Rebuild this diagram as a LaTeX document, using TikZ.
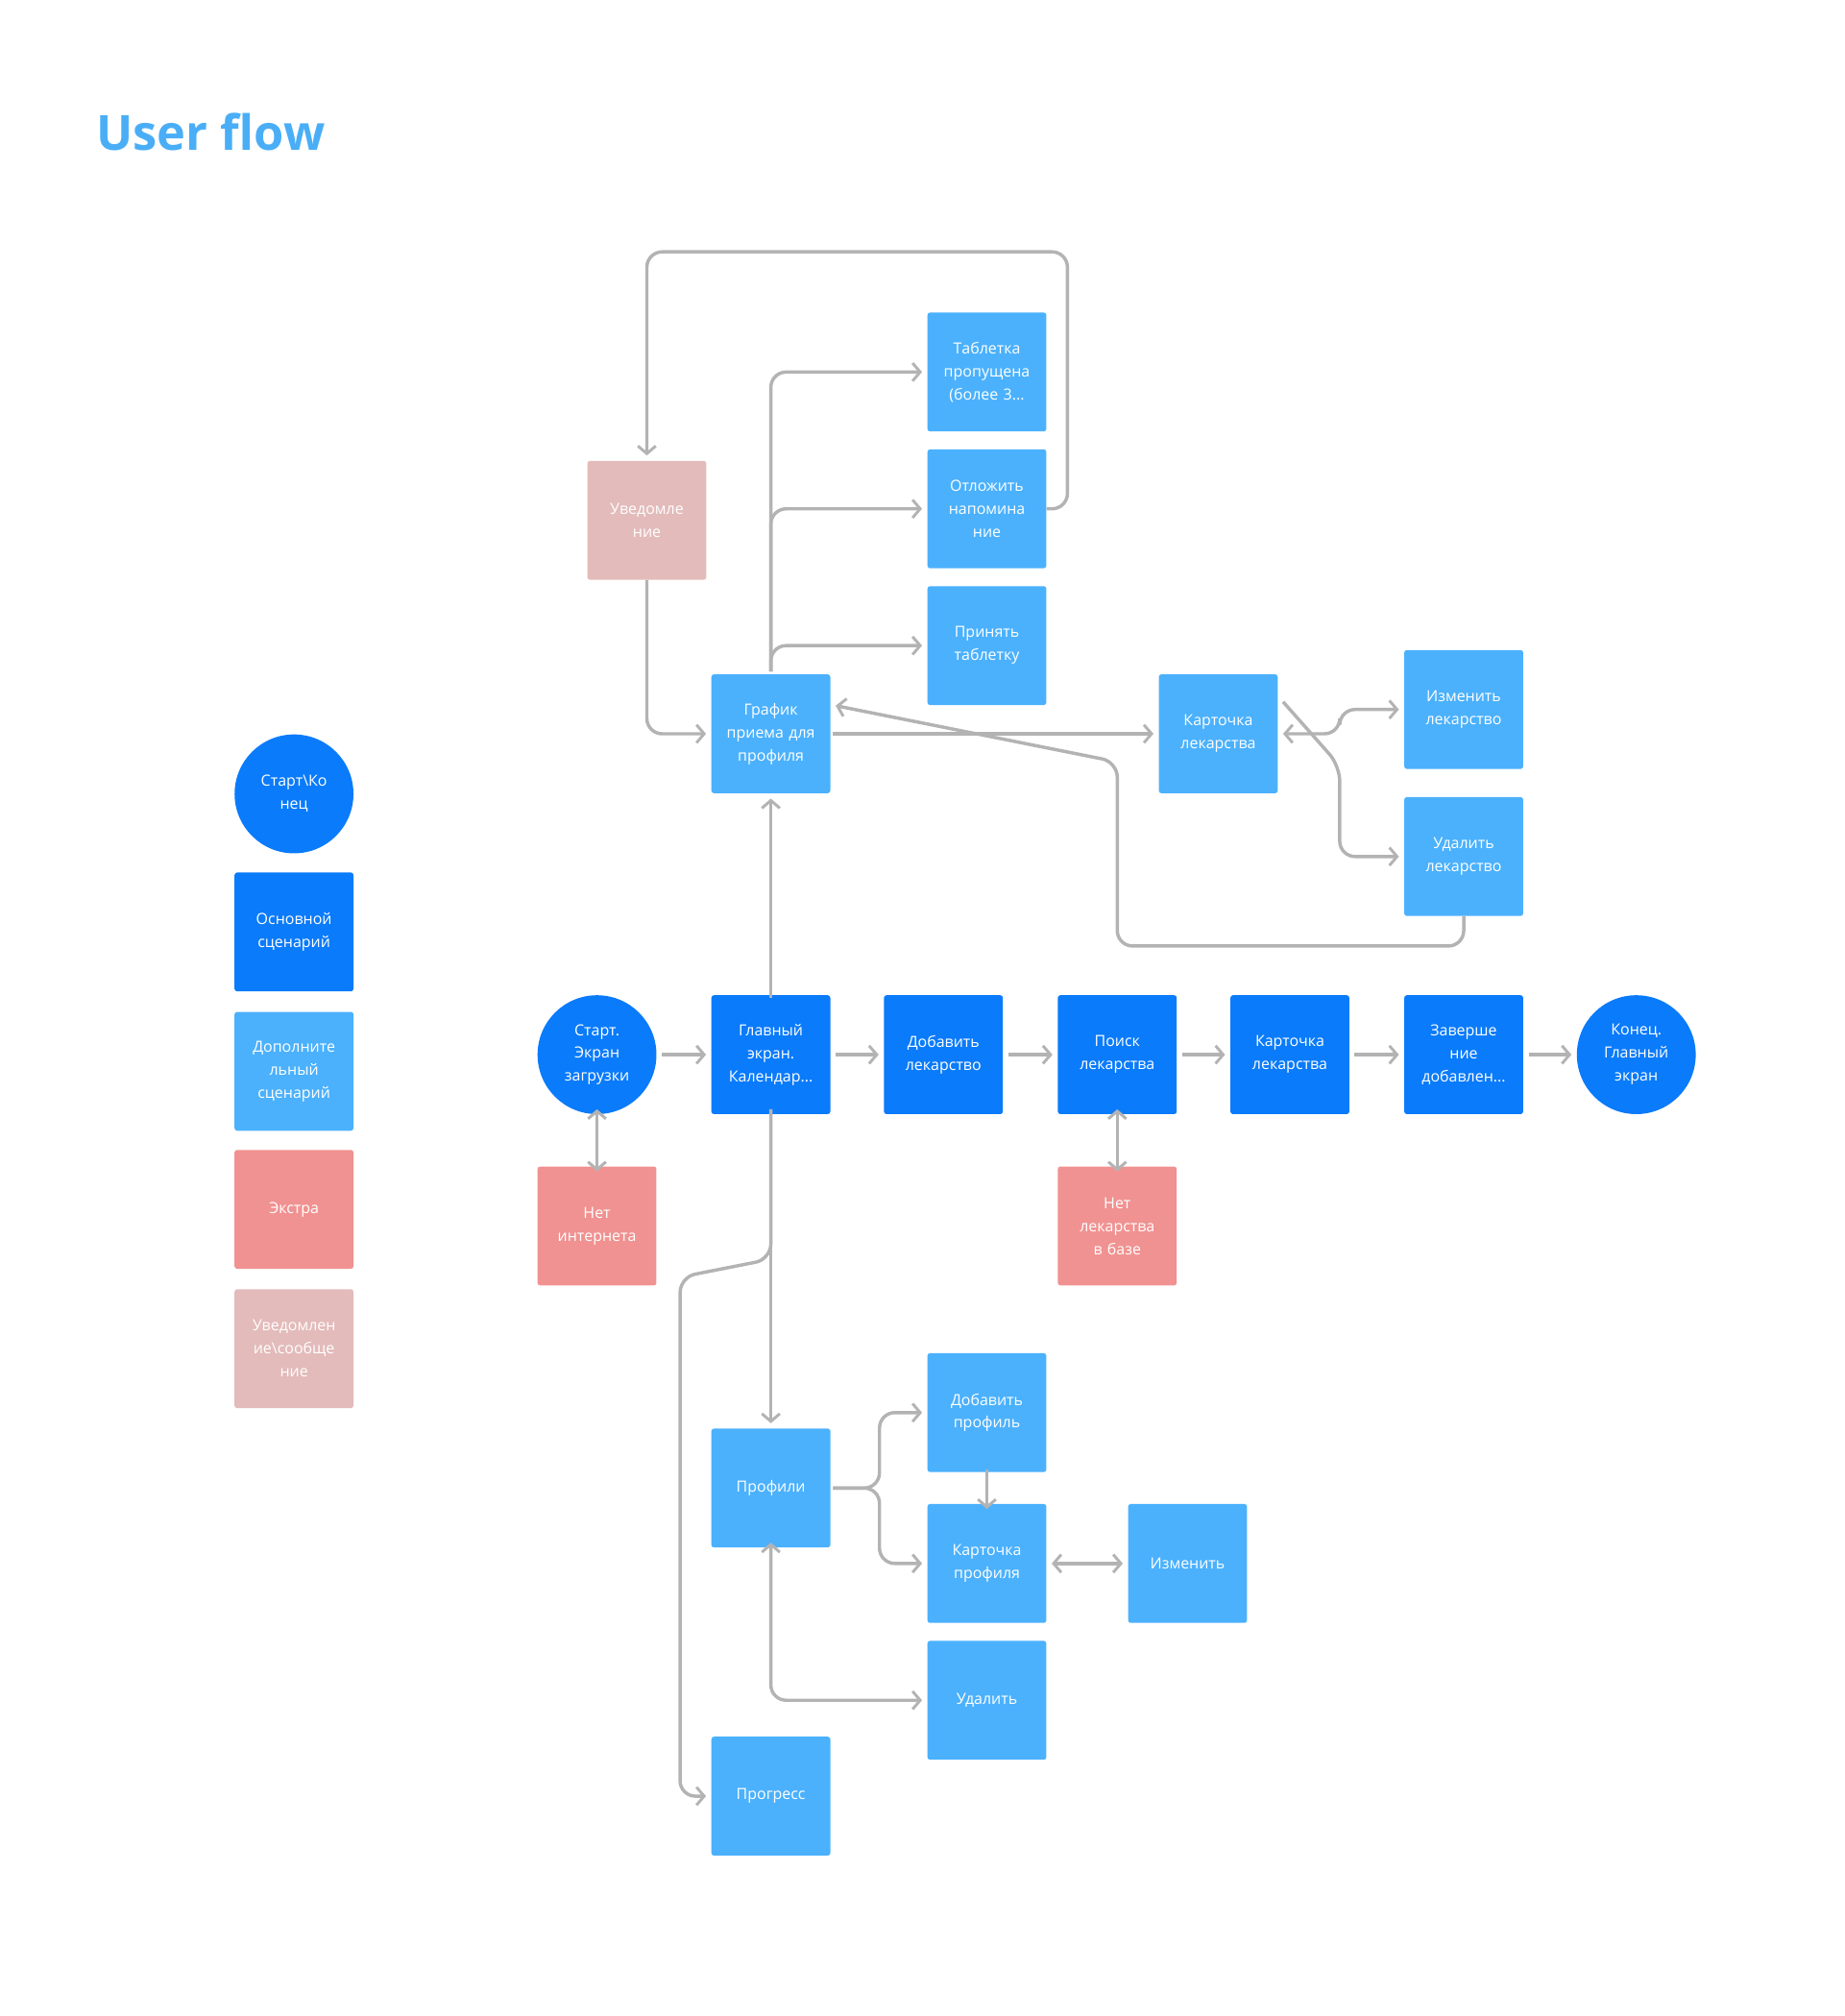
\documentclass[tikz,border=0pt]{standalone}
\usepackage{fontspec}
\setmainfont{Open Sans}
\usetikzlibrary{arrows.meta,calc}
\definecolor{dblue}{HTML}{0A7BFB}
\definecolor{lblue}{HTML}{4BB1FD}
\definecolor{pinkx}{HTML}{F09291}
\definecolor{ppink}{HTML}{E3BBBA}
\definecolor{ttl}{HTML}{4AAEF7}
\definecolor{gr}{HTML}{B3B3B3}
\begin{document}
\begin{tikzpicture}[x=1pt,y=-1pt,
 box/.style={minimum width=93pt,minimum height=93pt,inner sep=2pt,rounded corners=2pt,text=white,align=center,font=\fontsize{12}{18}\selectfont,text width=86pt},
 M/.style={box,fill=dblue},
 A/.style={box,fill=lblue},
 E/.style={box,fill=pinkx},
 N/.style={box,fill=ppink},
 C/.style={circle,fill=dblue,minimum size=93pt,inner sep=0pt,text=white,align=center,font=\fontsize{12}{18}\selectfont,text width=70pt},
 ar/.style={draw=gr,line width=2.6pt,rounded corners=12pt,-{Straight Barb[length=6pt,width=14pt,line width=2.2pt]}},
 dar/.style={ar,{Straight Barb[length=6pt,width=14pt,line width=2.2pt]}-{Straight Barb[length=6pt,width=14pt,line width=2.2pt]}}]
\useasboundingbox (0,0) rectangle (1443,1577);
\node[anchor=west,text=ttl,font=\fontsize{38}{40}\selectfont\bfseries] (title) at (72,103) {User flow};
% legend
\node[C] (l1) at (230,621) {Старт\textbackslash Ко\\нец};
\node[M] (l2) at (230,729) {Основной\\сценарий};
\node[A] (l3) at (230,838) {Дополните\\льный\\сценарий};
\node[E] (l4) at (230,946) {Экстра};
\node[N] (l5) at (230,1055) {Уведомлен\\ие\textbackslash сообще\\ние};
% main row
\node[C] (st) at (467,825) {Старт.\\Экран\\загрузки};
\node[M] (ms) at (603,825) {Главный\\экран.\\Календар...};
\node[M] (ad) at (738,825) {Добавить\\лекарство};
\node[M] (se) at (874,825) {Поиск\\лекарства};
\node[M] (kc) at (1009,825) {Карточка\\лекарства};
\node[M] (fi) at (1145,825) {Заверше\\ние\\добавлен...};
\node[C] (en) at (1280,825) {Конец.\\Главный\\экран};
\node[E] (ni) at (467,959) {Нет\\интернета};
\node[E] (nl) at (874,959) {Нет\\лекарства\\в базе};
% upper
\node[A] (gr) at (603,574) {График\\приема для\\профиля};
\node[A] (tp) at (772,291) {Таблетка\\пропущена\\(более 3...};
\node[A] (ot) at (772,398) {Отложить\\напомина\\ние};
\node[A] (pr) at (772,505) {Принять\\таблетку};
\node[N] (uv) at (506,407) {Уведомле\\ние};
\node[A] (kl) at (953,574) {Карточка\\лекарства};
\node[A] (il) at (1145,555) {Изменить\\лекарство};
\node[A] (ul) at (1145,670) {Удалить\\лекарство};
% lower
\node[A] (pf) at (603,1164) {Профили};
\node[A] (ap) at (772,1105) {Добавить\\профиль};
\node[A] (kp) at (772,1223) {Карточка\\профиля};
\node[A] (ip) at (929,1223) {Изменить};
\node[A] (up) at (772,1330) {Удалить};
\node[A] (pg) at (603,1405) {Прогресс};
% main row arrows
\foreach \a/\b in {st/ms,ms/ad,ad/se,se/kc,kc/fi,fi/en}
  \draw[ar] ([xshift=4pt]\a.east) -- ([xshift=-4pt]\b.west);
\draw[dar] ([yshift=4pt]st.south) -- ([yshift=-4pt]ni.north);
\draw[dar] ([yshift=4pt]se.south) -- ([yshift=-4pt]nl.north);
\draw[ar] ([yshift=-2pt]ms.north) -- ([yshift=-4pt]gr.south);
\draw[ar] ([yshift=4pt]ms.south) -- ([yshift=4pt]pf.north);
\coordinate (pgA) at (603,985);
\draw[ar] ([yshift=4pt]ms.south) -- (pgA) -- (532,999) -- (532,1405) -- ([xshift=-4pt]pg.west);
% graph to tablets
\coordinate (gt) at ([yshift=2pt]gr.north);
\draw[ar] (gt) |- ([xshift=-4pt]tp.west);
\draw[ar] (gt) |- ([xshift=-4pt]ot.west);
\draw[ar] (gt) |- ([xshift=-4pt]pr.west);
\draw[ar] (ot.east) -- (835,398) -- (835,197) -- (506,197) -- ([yshift=4pt]uv.north);
\draw[ar] (uv.south) |- ([xshift=-4pt]gr.west);
\draw[ar] ([xshift=2pt]gr.east) -- ([xshift=-4pt]kl.west);
\draw[ar] (ul.south) -- (1145,740) -- (874,740) -- (874,596) -- ([xshift=4pt,yshift=22pt]gr.east);
\draw[dar] ([xshift=4pt]kl.east) -- (1048,574) -- (1048,555) -- ([xshift=-4pt]il.west);
\draw[ar] ([xshift=4pt,yshift=25pt]kl.east) -- (1048,599) -- (1048,670) -- ([xshift=-4pt]ul.west);
% profiles
\coordinate (pfr) at (688,1164);
\draw[ar] ([xshift=2pt]pf.east) -- (pfr) |- ([xshift=-4pt]ap.west);
\draw[ar] ([xshift=2pt]pf.east) -- (pfr) |- ([xshift=-4pt]kp.west);
\draw[ar] ([yshift=2pt]ap.south) -- ([yshift=-4pt]kp.north);
\draw[dar] ([xshift=4pt]kp.east) -- ([xshift=-4pt]ip.west);
\draw[dar] ([yshift=4pt]pf.south) |- ([xshift=-4pt]up.west);
\end{tikzpicture}
\end{document}
